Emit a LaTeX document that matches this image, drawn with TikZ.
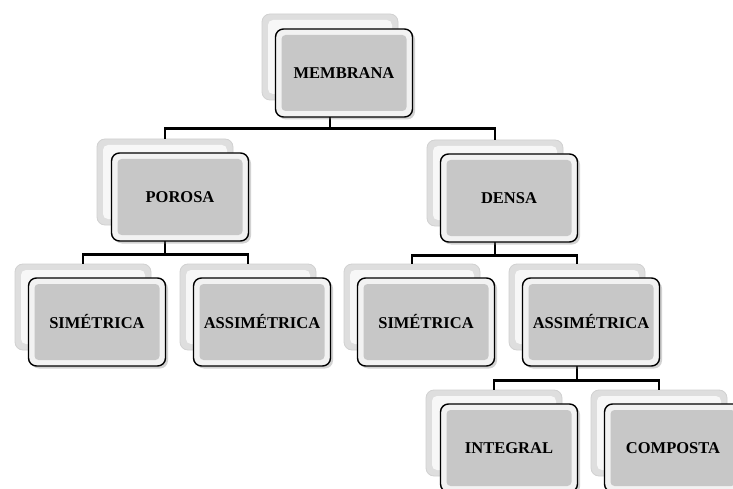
\documentclass[tikz,border=0pt]{standalone}
\usepackage{fontspec}
\setmainfont{Liberation Serif}
\usetikzlibrary{shadows}
\tikzset{
  backbox/.style={rounded corners=8pt, minimum width=136pt, minimum height=86pt,
    draw=black!18, line width=0.8pt, fill=black!13,
    path picture={\fill[black!3, rounded corners=5pt]
      ([shift={(6pt,-6pt)}]path picture bounding box.north west) rectangle
      ([shift={(-6pt,6pt)}]path picture bounding box.south east);}},
  frontbox/.style={rounded corners=8pt, minimum width=137pt, minimum height=88pt,
    draw=black, line width=1.4pt, fill=black!5,
    drop shadow={opacity=0.35, shadow xshift=2.5pt, shadow yshift=-2.5pt},
    path picture={\fill[black!22, rounded corners=4pt]
      ([shift={(6pt,-6pt)}]path picture bounding box.north west) rectangle
      ([shift={(-6pt,6pt)}]path picture bounding box.south east);},
    font=\bfseries\fontsize{16.5}{19}\selectfont, text=black},
  conn/.style={draw=black, line width=2.8pt}
}
\begin{document}
\begin{tikzpicture}[x=1pt,y=-1pt]
\useasboundingbox (0,0) rectangle (733,489);
\fill[white] (0,0) rectangle (733,489);
\clip (0,0) rectangle (733,489);
% back boxes
\node[backbox] (m)  at (330,57)  {};
\node[backbox] (p)  at (165,182) {};
\node[backbox] (d)  at (495,183) {};
\node[backbox] (s1) at (83,307)  {};
\node[backbox] (a1) at (248,307) {};
\node[backbox] (s2) at (412,307) {};
\node[backbox] (a2) at (577,307) {};
\node[backbox] (i)  at (494,433) {};
\node[backbox] (c)  at (659,433) {};
% connectors
\draw[conn] (m.south) -- ++(0,28) -| (p.north);
\draw[conn] (m.south) -- ++(0,28) -| (d.north);
\draw[conn] (p.south) -- ++(0,29) -| (s1.north);
\draw[conn] (p.south) -- ++(0,29) -| (a1.north);
\draw[conn] (d.south) -- ++(0,29) -| (s2.north);
\draw[conn] (d.south) -- ++(0,29) -| (a2.north);
\draw[conn] (a2.south) -- ++(0,30) -| (i.north);
\draw[conn] (a2.south) -- ++(0,30) -| (c.north);
% front boxes
\node[frontbox] (mf)  at ([shift={(14,16)}]m.center)  {MEMBRANA};
\node[frontbox] (pf)  at ([shift={(15,15)}]p.center)  {POROSA};
\node[frontbox] (df)  at ([shift={(14,15)}]d.center)  {DENSA};
\node[frontbox] (s1f) at ([shift={(14,15)}]s1.center) {SIMÉTRICA};
\node[frontbox] (a1f) at ([shift={(14,15)}]a1.center) {ASSIMÉTRICA};
\node[frontbox] (s2f) at ([shift={(14,15)}]s2.center) {SIMÉTRICA};
\node[frontbox] (a2f) at ([shift={(14,15)}]a2.center) {ASSIMÉTRICA};
\node[frontbox] (if)  at ([shift={(15,15)}]i.center)  {INTEGRAL};
\node[frontbox] (cf)  at ([shift={(14,15)}]c.center)  {COMPOSTA};
\end{tikzpicture}
\end{document}
